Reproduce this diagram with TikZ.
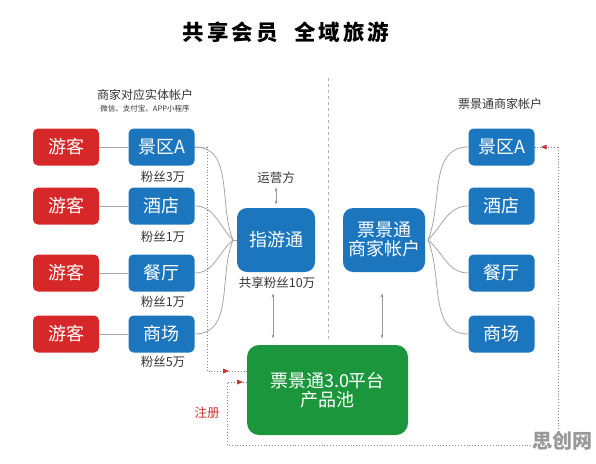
\documentclass[tikz,border=0pt]{standalone}
\usepackage{fontspec}
\setmainfont{Noto Sans CJK SC}
\usetikzlibrary{arrows.meta}
\definecolor{boxblue}{RGB}{27,118,190}
\definecolor{boxred}{RGB}{214,40,40}
\definecolor{boxgreen}{RGB}{28,150,60}
\definecolor{tipred}{RGB}{200,50,50}
\tikzset{vk/.style={draw=none,fill=boxred,text=white,rounded corners=5pt,minimum width=66pt,minimum height=37pt,inner sep=0pt,font=\fontsize{18}{20}\selectfont},
  sj/.style={vk,fill=boxblue},
  big/.style={sj,rounded corners=10pt,minimum width=78pt,minimum height=64pt,align=center},
  lbl/.style={text=black!80,inner sep=0pt,font=\fontsize{12.5}{14}\selectfont},
  ln/.style={draw=black!35,line width=0.8pt},
  dl/.style={draw=black!50,dotted,line width=0.9pt},
  dbl/.style={draw=black!40,line width=0.6pt,{Latex[length=4pt,width=3pt]}-{Latex[length=4pt,width=3pt]}}}

\begin{document}
\begin{tikzpicture}[x=1pt,y=-1pt]
\useasboundingbox (0,0) rectangle (596,463);
\node[inner sep=0pt,font=\fontsize{21.5}{24}\selectfont\bfseries\addfontfeature{LetterSpace=14}] (title) at (286,32) {共享会员\hspace{16pt}全域旅游};
\node[lbl,font=\fontsize{12}{14}\selectfont] (lhd) at (145,95) {商家对应实体帐户};
\node[lbl,font=\fontsize{7.5}{9}\selectfont] (lsub) at (145,109) {微信、支付宝、APP小程序};
\node[lbl,font=\fontsize{12}{14}\selectfont] (rhd) at (500,104) {票景通商家帐户};
\draw[draw=black!30,dashed,line width=0.6pt] (328,78) -- (328,340);
% left side
\node[vk] (yk1) at (66,147) {游客};
\node[vk] (yk2) at (66,206) {游客};
\node[vk] (yk3) at (66,273) {游客};
\node[vk] (yk4) at (66,334) {游客};
\node[sj] (jq) at (161.5,147) {景区A};
\node[sj] (jd) at (161.5,206) {酒店};
\node[sj] (ct) at (161.5,273) {餐厅};
\node[sj] (sc) at (161.5,334) {商场};
\node[lbl] (fs1) at (163,177) {粉丝3万};
\node[lbl] (fs2) at (163,237) {粉丝1万};
\node[lbl] (fs3) at (163,302) {粉丝1万};
\node[lbl] (fs4) at (163,362) {粉丝5万};
\draw[ln] (yk1) -- (jq); \draw[ln] (yk2) -- (jd);
\draw[ln] (yk3) -- (ct); \draw[ln] (yk4) -- (sc);
\node[big] (zyt) at (276,240) {指游通};
\node[lbl] (yyf) at (276,178) {运营方};
\node[lbl] (gx) at (277,283) {共享粉丝10万};
\coordinate (lj) at (233,240);
\draw[ln] (jq.east) to[out=0,in=112] (lj);
\draw[ln] (jd.east) to[out=0,in=135] (lj);
\draw[ln] (ct.east) to[out=0,in=-140] (lj);
\draw[ln] (sc.east) to[out=0,in=-112] (lj);
\draw[ln] (lj) -- (zyt.west);
% right side
\node[big,minimum width=82pt] (pjt) at (384,240) {票景通\\[-1pt]商家帐户};
\node[sj] (rjq) at (501.5,147) {景区A};
\node[sj] (rjd) at (501.5,206) {酒店};
\node[sj] (rct) at (501.5,273) {餐厅};
\node[sj] (rsc) at (501.5,334) {商场};
\coordinate (rj) at (428,240);
\draw[ln] (rj) to[out=68,in=180] (rjq.west);
\draw[ln] (rj) to[out=45,in=180] (rjd.west);
\draw[ln] (rj) to[out=-40,in=180] (rct.west);
\draw[ln] (rj) to[out=-68,in=180] (rsc.west);
% platform
\node[big,fill=boxgreen,minimum width=161pt,minimum height=90pt,rounded corners=12pt] (cpc) at (327.5,390) {票景通3.0平台\\[-1pt]产品池};
\draw[dbl] ([yshift=-3pt]yyf.south) -- ([yshift=3pt]zyt.north -| yyf.south);
\draw[dbl] (273,293) coordinate (a2) -- ([yshift=6pt]cpc.north -| a2);
\draw[dbl] (382,293) coordinate (a3) -- ([yshift=6pt]cpc.north -| a3);
% registration paths
\coordinate (d1) at (229,371);
\coordinate (d2) at (243,382);
\draw[dl] (jq.east) -- (207,147) -- (207,371) -- (d1);
\draw[dl] (d1) -- (d1 -| cpc.west);
\draw[dl] (558,147) -- (558,445) -- (227,445) -- (227,382) -- (d2);
\draw[dl] (d2) -- (d2 -| cpc.west);
\fill[tipred] (d1) -- ++(-6,-2.5) -- ++(0,5) -- cycle;
\fill[tipred] (d2) -- ++(-6,-2.5) -- ++(0,5) -- cycle;
\draw[dl] (558,147) -- (rjq.east) ++(6,0) coordinate (d3);
\fill[tipred] (d3) -- ++(6,-2.5) -- ++(0,5) -- cycle;
\node[lbl,text=tipred] (zc) at (207,413) {注册};
\node[inner sep=0pt,text=black!40,font=\fontsize{20}{22}\selectfont\bfseries] (wm) at (562,441) {思创网};
\end{tikzpicture}
\end{document}
